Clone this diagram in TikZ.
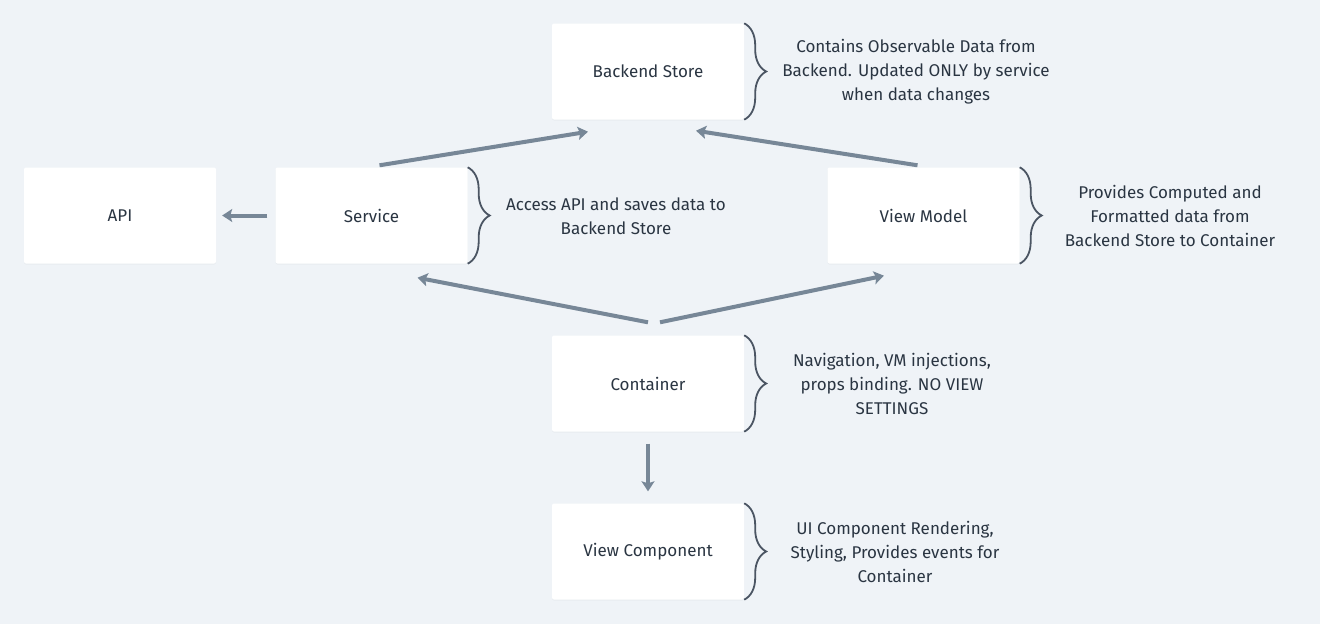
\documentclass[tikz,border=0pt]{standalone}
\usepackage{fontspec}
\setmainfont{Fira Sans}
\usetikzlibrary{arrows.meta,calc,decorations.pathreplacing,shadows}

\definecolor{bgcol}{HTML}{EFF3F7}
\definecolor{txtcol}{HTML}{2A3542}
\definecolor{flowcol}{HTML}{778797}
\definecolor{bracecol}{HTML}{4B5563}

\tikzset{
  box/.style={fill=white, rounded corners=2pt, minimum width=192pt, minimum height=96pt,
    inner sep=0pt, text=txtcol, font=\fontsize{17}{24}\selectfont,
    drop shadow={shadow xshift=0pt, shadow yshift=-1pt, opacity=0.06}},
  note/.style={align=center, text=txtcol, font=\fontsize{17}{24}\selectfont},
  flow/.style={-{Stealth[length=10pt,width=13pt,inset=2pt]}, line width=4pt, flowcol},
  bracket/.style={decorate, decoration={brace, amplitude=22pt}, bracecol, line width=1.8pt}
}

\begin{document}
\begin{tikzpicture}[x=1pt,y=-1pt]
  % background
  \fill[bgcol] (0,0) rectangle (1320,624);
  \useasboundingbox (0,0) rectangle (1320,624);

  % boxes
  \node[box] (backend) at (648,71.5) {Backend Store};
  \node[box] (api) at (120,215.5) {API};
  \node[box] (service) at (371.5,215.5) {Service};
  \node[box] (viewmodel) at (923.5,215.5) {View Model};
  \node[box] (container) at (648,383.5) {Container};
  \node[box] (component) at (648,551.5) {View Component};

  % braces with their notes
  \draw[bracket] (backend.north east) -- (backend.south east);
  \draw[bracket] (service.north east) -- (service.south east);
  \draw[bracket] (viewmodel.north east) -- (viewmodel.south east);
  \draw[bracket] (container.north east) -- (container.south east);
  \draw[bracket] (component.north east) -- (component.south east);

  \node[note] (backendnote) at (916,72) {Contains Observable Data from\\Backend. Updated ONLY by service\\when data changes};
  \node[note] (servicenote) at (616,216) {Access API and saves data to\\Backend Store};
  \node[note] (viewmodelnote) at (1170,216) {Provides Computed and\\Formatted data from\\Backend Store to Container};
  \node[note] (containernote) at (892,383.5) {Navigation, VM injections,\\props binding. NO VIEW\\SETTINGS};
  \node[note] (componentnote) at (895,551.5) {UI Component Rendering,\\Styling, Provides events for\\Container};

  % arrows
  \draw[flow] ($(service.west)+(-8,0)$) -- ($(api.east)+(6,0)$);
  \draw[flow] ($(service.north)+(8,-2)$) -- ($(backend.south)+(-60,12)$);
  \draw[flow] ($(viewmodel.north)+(-6,-2)$) -- ($(backend.south)+(48,11)$);
  \draw[flow] ($(container.north)+(0,-13)$) -- ($(service.south)+(46,14)$);
  \draw[flow] ($(container.north)+(12,-13)$) -- ($(viewmodel.south)+(-39.5,12)$);
  \draw[flow] ($(container.south)+(0,12)$) -- ($(component.north)+(0,-12)$);
\end{tikzpicture}
\end{document}
